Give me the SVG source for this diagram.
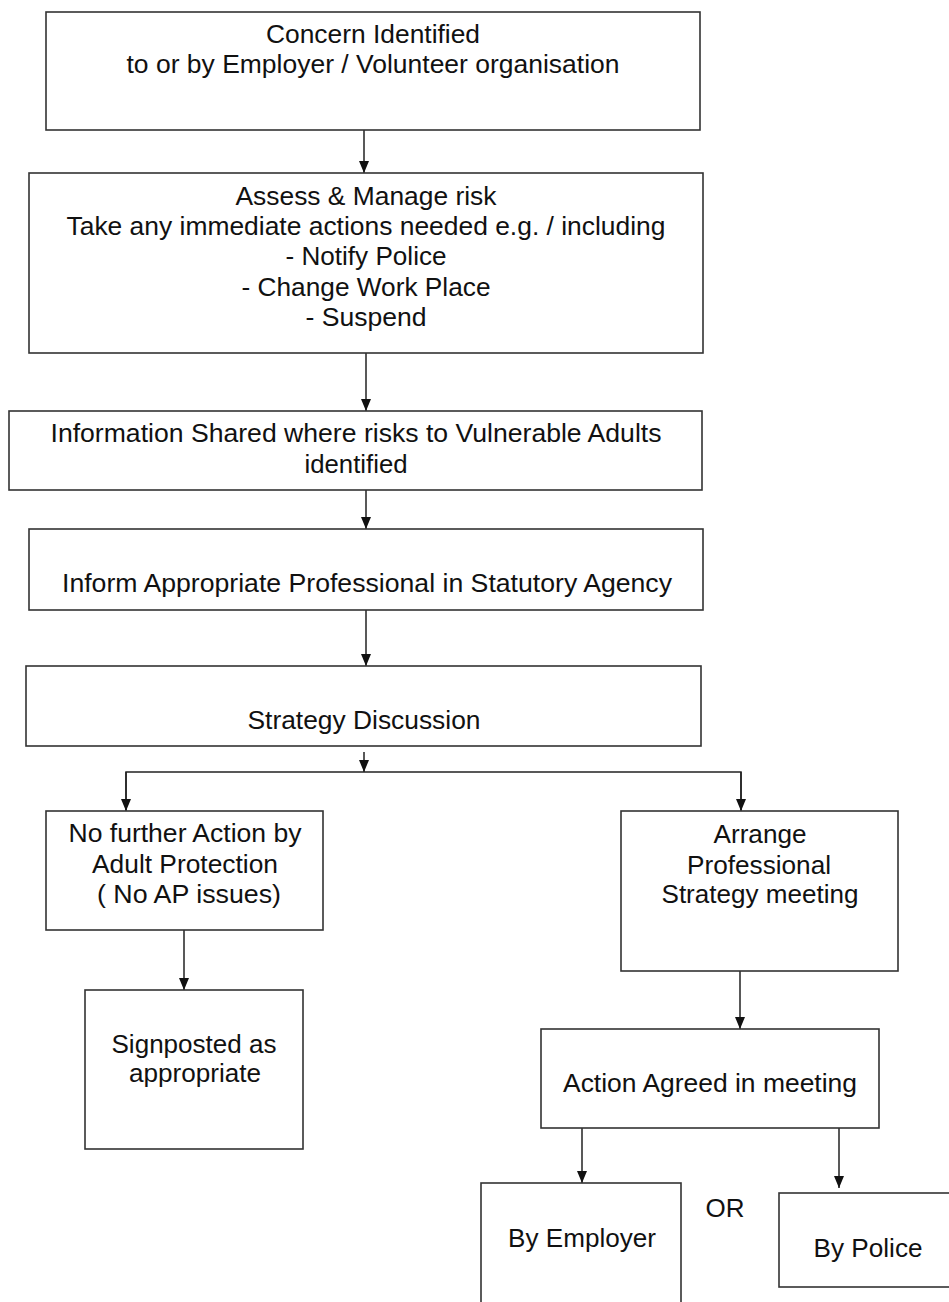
<svg xmlns="http://www.w3.org/2000/svg" width="949" height="1302" viewBox="0 0 949 1302">
<style>
.box{fill:#fff;stroke:#333;stroke-width:1.6}
.t{font-family:"Liberation Sans",Arial,sans-serif;font-size:25px;fill:#111;text-anchor:middle}
.c{fill:none;stroke:#222;stroke-width:1.5}
</style>
<defs>
<marker id="ah" markerUnits="userSpaceOnUse" markerWidth="12" markerHeight="10" refX="12" refY="5" orient="auto" viewBox="0 0 12 10">
<path d="M0,0 L12,5 L0,10 z" fill="#111"/>
</marker>
</defs>
<rect width="949" height="1302" fill="#fff"/>
<g id="connectors">
<line class="c" x1="364" y1="130" x2="364" y2="173" marker-end="url(#ah)"/>
<line class="c" x1="366" y1="353" x2="366" y2="411" marker-end="url(#ah)"/>
<line class="c" x1="366" y1="490" x2="366" y2="529" marker-end="url(#ah)"/>
<line class="c" x1="366" y1="610" x2="366" y2="666" marker-end="url(#ah)"/>
<line class="c" x1="364" y1="752" x2="364" y2="772" marker-end="url(#ah)"/>
<polyline class="c" points="126,810 126,772 741,772 741,810"/>
<line class="c" x1="126" y1="772" x2="126" y2="811" marker-end="url(#ah)"/>
<line class="c" x1="741" y1="772" x2="741" y2="811" marker-end="url(#ah)"/>
<line class="c" x1="184" y1="930" x2="184" y2="990" marker-end="url(#ah)"/>
<line class="c" x1="740" y1="971" x2="740" y2="1029" marker-end="url(#ah)"/>
<line class="c" x1="582" y1="1128" x2="582" y2="1183" marker-end="url(#ah)"/>
<line class="c" x1="839" y1="1128" x2="839" y2="1188" marker-end="url(#ah)"/>
</g>
<g id="n1">
<rect class="box" x="46" y="12" width="654" height="118"/>
<text class="t" x="373" y="43" textLength="214" lengthAdjust="spacingAndGlyphs">Concern Identified</text>
<text class="t" x="373" y="73" textLength="493" lengthAdjust="spacingAndGlyphs">to or by Employer / Volunteer organisation</text>
</g>
<g id="n2">
<rect class="box" x="29" y="173" width="674" height="180"/>
<text class="t" x="366" y="205" textLength="261" lengthAdjust="spacingAndGlyphs">Assess &amp; Manage risk</text>
<text class="t" x="366" y="235" textLength="599" lengthAdjust="spacingAndGlyphs">Take any immediate actions needed e.g. / including</text>
<text class="t" x="366" y="265" textLength="161" lengthAdjust="spacingAndGlyphs">- Notify Police</text>
<text class="t" x="366" y="296" textLength="249" lengthAdjust="spacingAndGlyphs">- Change Work Place</text>
<text class="t" x="366" y="326" textLength="121" lengthAdjust="spacingAndGlyphs">- Suspend</text>
</g>
<g id="n3">
<rect class="box" x="9" y="411" width="693" height="79"/>
<text class="t" x="356" y="442" textLength="611" lengthAdjust="spacingAndGlyphs">Information Shared where risks to Vulnerable Adults</text>
<text class="t" x="356" y="473" textLength="103" lengthAdjust="spacingAndGlyphs">identified</text>
</g>
<g id="n4">
<rect class="box" x="29" y="529" width="674" height="81"/>
<text class="t" x="367" y="592" textLength="610" lengthAdjust="spacingAndGlyphs">Inform Appropriate Professional in Statutory Agency</text>
</g>
<g id="n5">
<rect class="box" x="26" y="666" width="675" height="80"/>
<text class="t" x="364" y="729" textLength="233" lengthAdjust="spacingAndGlyphs">Strategy Discussion</text>
</g>
<g id="n6">
<rect class="box" x="46" y="811" width="277" height="119"/>
<text class="t" x="185" y="842" textLength="233" lengthAdjust="spacingAndGlyphs">No further Action by</text>
<text class="t" x="185" y="873" textLength="186" lengthAdjust="spacingAndGlyphs">Adult Protection</text>
<text class="t" x="189" y="903" textLength="184" lengthAdjust="spacingAndGlyphs">( No AP issues)</text>
</g>
<g id="n7">
<rect class="box" x="621" y="811" width="277" height="160"/>
<text class="t" x="760" y="843" textLength="93" lengthAdjust="spacingAndGlyphs">Arrange</text>
<text class="t" x="759" y="874" textLength="144" lengthAdjust="spacingAndGlyphs">Professional</text>
<text class="t" x="760" y="903" textLength="197" lengthAdjust="spacingAndGlyphs">Strategy meeting</text>
</g>
<g id="n8">
<rect class="box" x="85" y="990" width="218" height="159"/>
<text class="t" x="194" y="1053" textLength="165" lengthAdjust="spacingAndGlyphs">Signposted as</text>
<text class="t" x="195" y="1082" textLength="132" lengthAdjust="spacingAndGlyphs">appropriate</text>
</g>
<g id="n9">
<rect class="box" x="541" y="1029" width="338" height="99"/>
<text class="t" x="710" y="1092" textLength="294" lengthAdjust="spacingAndGlyphs">Action Agreed in meeting</text>
</g>
<g id="n10">
<rect class="box" x="481" y="1183" width="200" height="140"/>
<text class="t" x="582" y="1247" textLength="148" lengthAdjust="spacingAndGlyphs">By Employer</text>
</g>
<g id="n11">
<rect class="box" x="779" y="1193" width="200" height="94"/>
<text class="t" x="868" y="1257" textLength="109" lengthAdjust="spacingAndGlyphs">By Police</text>
</g>
<text class="t" x="725" y="1217" textLength="39" lengthAdjust="spacingAndGlyphs">OR</text>
</svg>
